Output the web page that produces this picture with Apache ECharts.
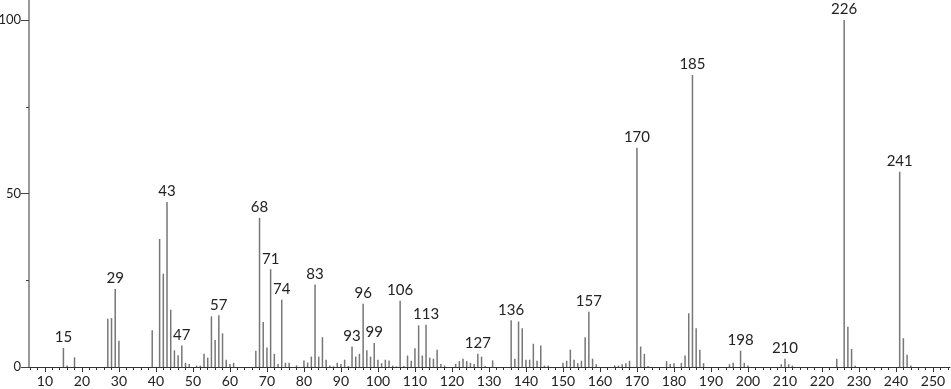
<!DOCTYPE html>
<html><head><meta charset="utf-8">
<script src="https://cdn.jsdelivr.net/npm/echarts@6/dist/echarts.min.js"></script>
<style>html,body{margin:0;padding:0;background:#fff}#c{width:951px;height:389px}</style>
</head><body><div id="c"></div>
<script>
const mz = [15,16,18,27,28,29,30,39,41,42,43,44,45,46,47,48,49,51,52,53,54,55,56,57,58,59,60,61,
  67,68,69,70,71,72,73,74,75,76,78,80,81,82,83,84,85,86,87,88,89,90,91,92,93,94,95,96,97,98,99,
  100,101,102,103,104,105,106,107,108,109,110,111,112,113,114,115,116,117,118,121,122,123,124,125,
  126,127,128,129,131,136,137,138,139,140,141,142,143,144,145,146,150,151,152,153,154,155,156,157,
  158,159,164,165,166,167,168,170,171,172,173,178,179,180,182,183,184,185,186,187,188,195,196,198,
  199,200,209,210,211,212,224,226,227,228,229,241,242,243,244];
const intensity = [5.5,0.4,2.8,13.9,14.1,22.5,7.6,10.6,36.9,26.9,47.6,16.5,4.8,3.4,6.2,1.2,0.9,0.4,0.4,3.8,2.7,14.6,7.8,14.9,9.7,2.1,0.9,1.2,
  4.7,43.0,13.0,5.6,28.2,3.8,0.9,19.4,1.2,1.2,0.5,1.9,1.3,3.0,23.8,3.0,8.6,2.1,0.4,0.2,1.2,0.9,2.1,0.3,5.9,3.0,3.8,18.2,4.8,3.0,6.9,
  2.1,1.1,2.1,1.9,0.4,0.2,19.1,0.3,3.3,1.8,5.4,12.0,3.3,12.2,2.7,2.4,5.0,0.9,0.4,0.9,1.7,2.4,1.7,1.2,
  0.9,3.8,3.0,0.3,1.9,13.5,2.4,13.1,11.2,2.1,2.1,6.7,1.8,6.2,0.4,0.4,1.2,1.8,5.0,2.1,1.1,1.8,8.6,15.9,
  2.4,0.8,0.4,0.4,0.8,1.1,1.8,63.2,5.9,3.8,0.3,1.7,0.9,1.1,1.2,3.3,15.5,84.2,11.2,5.0,1.1,0.8,1.2,4.7,
  1.2,0.4,0.8,2.4,0.8,0.4,2.4,100,11.6,5.2,0.4,56.3,8.3,3.5,0.4];
const labeledPeaks = [15,29,43,47,57,68,71,74,83,93,96,99,106,113,127,136,157,170,185,198,210,226,241];
const xTickLabels = [10,20,30,40,50,60,70,80,90,100,110,120,130,140,150,160,170,180,190,200,210,220,230,240,250];
const yTickLabels = [0,50,100];
const yMinorTicks = [25,75];

const xMin = 5.7, xMax = 254.6;
const xMinorTicks = [];
for (let v = 6; v <= 254; v += 2) xMinorTicks.push(v);

const font = 'Lato, "DejaVu Sans", sans-serif';
const chart = echarts.init(document.getElementById('c'), null, {renderer:'canvas'});
chart.setOption({
  animation: false,
  backgroundColor: '#fff',
  grid: {left: 29, right: 1, top: 0, bottom: 22, containLabel: false, outerBoundsMode: 'none'},
  xAxis: [
    {type:'value', min:xMin, max:xMax, position:'bottom',
     axisLine:{show:true, onZero:false, lineStyle:{color:'#333', width:1}},
     axisTick:{show:true, customValues:xTickLabels, length:5, lineStyle:{color:'#333'}},
     axisLabel:{customValues:xTickLabels, color:'#222', fontSize:14, fontFamily:font, margin:7},
     splitLine:{show:false}},
    {type:'value', min:xMin, max:xMax, position:'bottom',
     axisLine:{show:false, onZero:false},
     axisTick:{show:true, customValues:xMinorTicks, length:3, lineStyle:{color:'#333'}},
     axisLabel:{show:false}, splitLine:{show:false}}
  ],
  yAxis: [
    {type:'value', min:0, max:105.8, position:'left',
     axisLine:{show:true, onZero:false, lineStyle:{color:'#999', width:2}},
     axisTick:{show:true, customValues:yTickLabels, length:8, lineStyle:{color:'#444'}},
     axisLabel:{customValues:yTickLabels, color:'#222', fontSize:13, fontFamily:font, margin:8},
     splitLine:{show:false}},
    {type:'value', min:0, max:105.8, position:'left',
     axisLine:{show:false, onZero:false},
     axisTick:{show:true, customValues:yMinorTicks, length:3, lineStyle:{color:'#444'}},
     axisLabel:{show:false}, splitLine:{show:false}}
  ],
  series: [{
    type:'custom', xAxisIndex:0, yAxisIndex:0, clip:false,
    data: mz.map((m, i) => [m, intensity[i], labeledPeaks.includes(m) ? 1 : 0]),
    encode:{x:0, y:1},
    renderItem: (params, api) => {
      const m = api.value(0), v = api.value(1), lab = api.value(2);
      const p0 = api.coord([m, 0]), p1 = api.coord([m, v]);
      const children = [{type:'line', shape:{x1:p0[0], y1:p0[1], x2:p1[0], y2:p1[1]},
        style:{stroke:'#777', lineWidth:1.5}}];
      if (lab) {
        children.push({type:'text', x:p1[0], y:p1[1] - 3,
          style:{text:String(m), align:'center', verticalAlign:'bottom',
                 fontSize:15, fontFamily:font, fill:'#222'}});
      }
      return {type:'group', children};
    }
  }]
});
</script></body></html>
